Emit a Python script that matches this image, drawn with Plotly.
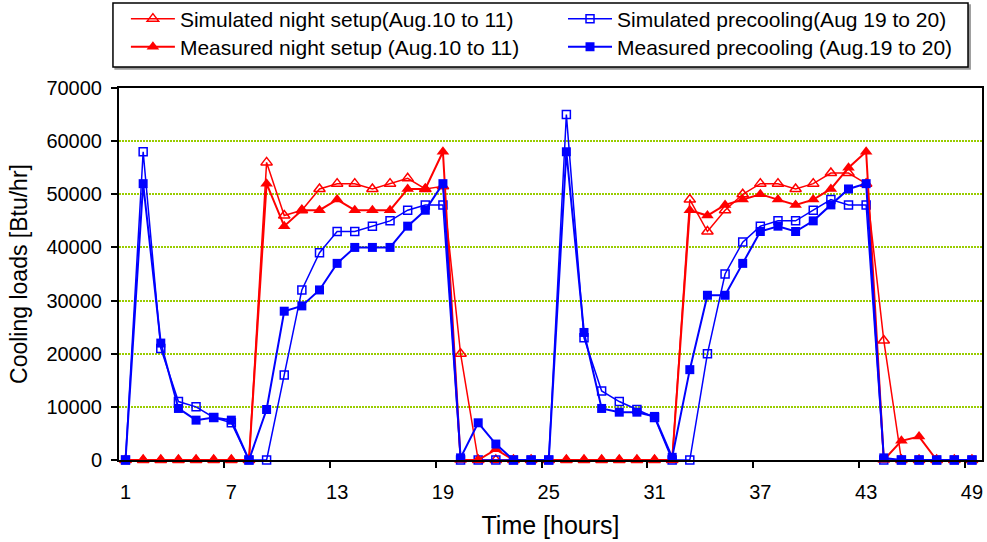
import plotly.graph_objects as go

hours = list(range(1, 50))

sim_night = [0, 0, 0, 0, 0, 0, 0, 0, 56000, 46000, 47000, 51000, 52000, 52000, 51000,
             52000, 53000, 51000, 51500, 20000, 0, 0, 0, 0, 0, 0, 0, 0, 0, 0,
             0, 0, 49000, 43000, 47000, 50000, 52000, 52000, 51000, 52000, 54000, 54000, 52000, 22500,
             0, 0, 0, 0, 0]
meas_night = [0, 0, 0, 0, 0, 0, 0, 0, 52000, 44000, 47000, 47000, 49000, 47000, 47000,
              47000, 51000, 51000, 58000, 0, 0, 2000, 0, 0, 0, 0, 0, 0, 0, 0,
              0, 0, 47000, 46000, 48000, 49000, 50000, 49000, 48000, 49000, 51000, 55000, 58000, 0,
              3600, 4400, 0, 0, 0]
sim_pre = [0, 58000, 21000, 11000, 10000, 8000, 7000, 0, 0, 16000, 32000, 39000, 43000, 43000, 44000,
           45000, 47000, 48000, 48000, 0, 0, 0, 0, 0, 0, 65000, 23000, 13000, 11000, 9500,
           8000, 0, 0, 20000, 35000, 41000, 44000, 45000, 45000, 47000, 49000, 48000, 48000, 0,
           0, 0, 0, 0, 0]
meas_pre = [0, 52000, 22000, 9700, 7500, 8000, 7500, 0, 9500, 28000, 29000, 32000, 37000, 40000, 40000,
            40000, 44000, 47000, 52000, 400, 7000, 3000, 0, 0, 0, 58000, 24000, 9700, 9000, 9000,
            8200, 500, 17000, 31000, 31000, 37000, 43000, 44000, 43000, 45000, 48000, 51000, 52000, 400,
            0, 0, 0, 0, 0]

x_ticks = [1, 7, 13, 19, 25, 31, 37, 43, 49]
y_ticks = [0, 10000, 20000, 30000, 40000, 50000, 60000, 70000]

RED = "#FF0000"
BLUE = "#0000FF"
FONT = "Liberation Sans"

fig = go.Figure()

fig.add_trace(go.Scatter(
    x=hours, y=sim_night, mode="lines+markers", name="Simulated night setup(Aug.10 to 11)",
    line=dict(color=RED, width=1.5),
    marker=dict(symbol="triangle-up-open", size=10, color=RED, line=dict(width=1.5)),
    cliponaxis=False, legend="legend"))
fig.add_trace(go.Scatter(
    x=hours, y=sim_pre, mode="lines+markers", name="Simulated precooling(Aug 19 to 20)",
    line=dict(color=BLUE, width=1.5),
    marker=dict(symbol="square-open", size=8, color=BLUE, line=dict(width=1.5)),
    cliponaxis=False, legend="legend2"))
fig.add_trace(go.Scatter(
    x=hours, y=meas_night, mode="lines+markers", name="Measured night setup (Aug.10 to 11)",
    line=dict(color=RED, width=2),
    marker=dict(symbol="triangle-up", size=11, color=RED),
    cliponaxis=False, legend="legend3"))
fig.add_trace(go.Scatter(
    x=hours, y=meas_pre, mode="lines+markers", name="Measured precooling (Aug.19 to 20)",
    line=dict(color=BLUE, width=2),
    marker=dict(symbol="square", size=9, color=BLUE),
    cliponaxis=False, legend="legend4"))

# legend frame with a drop shadow (paper coordinates above the plot area)
box = dict(x0=-0.0070, x1=0.9838, y0=1.0565, y1=1.2285)
fig.add_shape(type="rect", xref="paper", yref="paper",
              x0=box["x0"] + 0.0025, x1=box["x1"] + 0.0025,
              y0=box["y0"] - 0.0055, y1=box["y1"] - 0.0055,
              line=dict(color="#9a9a9a", width=1.5), fillcolor="#9a9a9a")
fig.add_shape(type="rect", xref="paper", yref="paper", **box,
              line=dict(color="black", width=1.5), fillcolor="white")


def legend_slot(x, y):
    # one entry per legend so each row/column sits at a fixed spot inside the frame
    return dict(x=x, y=y, xanchor="left", yanchor="middle", orientation="v",
                bgcolor="rgba(0,0,0,0)", borderwidth=0,
                font=dict(family=FONT, size=21, color="black"), itemwidth=44)


col1, col2 = 0.0080, 0.5145
row1, row2 = 1.1855, 1.1102

fig.update_layout(
    width=987, height=542,
    margin=dict(l=119, r=5, t=88, b=82, autoexpand=False),
    paper_bgcolor="white", plot_bgcolor="white",
    font=dict(family=FONT, size=20, color="black"),
    showlegend=True,
    legend=legend_slot(col1, row1),
    legend2=legend_slot(col2, row1),
    legend3=legend_slot(col1, row2),
    legend4=legend_slot(col2, row2),
    xaxis=dict(
        range=[0.63, 49.57], tickmode="array", tickvals=x_ticks,
        ticktext=[str(v) for v in x_ticks], ticks="",
        showgrid=False, zeroline=False,
        showline=True, linecolor="black", linewidth=2, mirror=True,
        tickfont=dict(size=20), ticklabelstandoff=13,
        minor=dict(ticks="outside", tick0=0.6, dtick=6, ticklen=6, tickcolor="black", tickwidth=1.5, showgrid=False),
        title=dict(text="Time [hours]", font=dict(size=25), standoff=14),
    ),
    yaxis=dict(
        range=[0, 70000], tickmode="array", tickvals=y_ticks,
        ticktext=[str(v) for v in y_ticks],
        ticks="outside", ticklen=6, tickcolor="black", tickwidth=1.5,
        showgrid=True, gridcolor="#99CC00", griddash="2px,1px", gridwidth=1.5,
        zeroline=False,
        showline=True, linecolor="black", linewidth=2, mirror=True,
        tickfont=dict(size=20), ticklabelstandoff=5,
        title=dict(text="Cooling loads [Btu/hr]", font=dict(size=23), standoff=12),
    ),
)

fig.write_html("out.html")
